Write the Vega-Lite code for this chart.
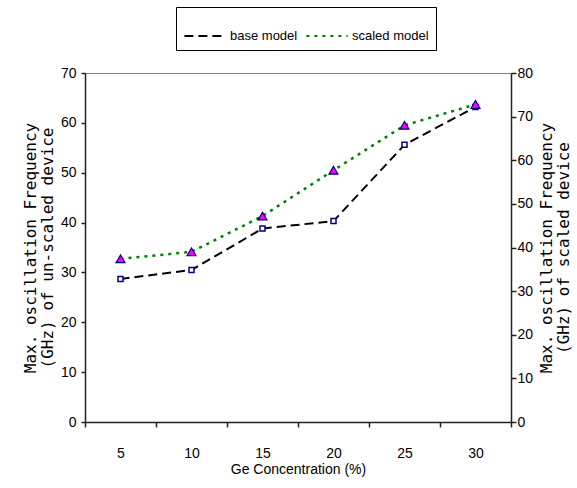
{
  "$schema": "https://vega.github.io/schema/vega-lite/v6.json",
  "width": 426,
  "height": 349,
  "autosize": {"type": "none"},
  "padding": {"left": 85, "top": 73, "right": 66, "bottom": 66},
  "background": "white",
  "config": {
    "view": {"stroke": "#808080", "strokeWidth": 1},
    "font": "Liberation Sans",
    "axis": {
      "labelFont": "Liberation Sans",
      "labelFontSize": 14,
      "labelColor": "black",
      "titleColor": "black",
      "titleFontWeight": "normal",
      "domainColor": "#222222",
      "domainWidth": 1.5,
      "tickColor": "#222222",
      "tickWidth": 1.5,
      "grid": false
    },
    "legend": {
      "labelFont": "Liberation Sans",
      "labelFontSize": 13,
      "labelColor": "black",
      "symbolType": "stroke",
      "symbolSize": 1700,
      "symbolStrokeWidth": 2,
      "strokeColor": "black",
      "fillColor": "white",
      "padding": 7,
      "columnPadding": 4,
      "labelOffset": 3
    }
  },
  "data": {
    "values": [
      {"conc": "5", "series": "base model", "value": 28.7},
      {"conc": "10", "series": "base model", "value": 30.5},
      {"conc": "15", "series": "base model", "value": 38.8},
      {"conc": "20", "series": "base model", "value": 40.3},
      {"conc": "25", "series": "base model", "value": 55.6},
      {"conc": "30", "series": "base model", "value": 63.2},
      {"conc": "5", "series": "scaled model", "value": 37.4},
      {"conc": "10", "series": "scaled model", "value": 39.0},
      {"conc": "15", "series": "scaled model", "value": 47.2},
      {"conc": "20", "series": "scaled model", "value": 57.7},
      {"conc": "25", "series": "scaled model", "value": 68.0},
      {"conc": "30", "series": "scaled model", "value": 72.8}
    ]
  },
  "encoding": {
    "x": {
      "field": "conc",
      "type": "ordinal",
      "sort": ["5", "10", "15", "20", "25", "30"],
      "scale": {"type": "band", "paddingInner": 0, "paddingOuter": 0},
      "bandPosition": 0.5,
      "axis": {
        "title": "Ge Concentration (%)",
        "titleFont": "Liberation Sans",
        "titleFontSize": 14,
        "labelAngle": 0,
        "tickBand": "extent",
        "tickSize": 5,
        "labelPadding": 19,
        "titlePadding": 2
      }
    }
  },
  "layer": [
    {
      "transform": [{"filter": "datum.series === 'base model'"}],
      "encoding": {
        "y": {
          "field": "value",
          "type": "quantitative",
          "scale": {"domain": [0, 70]},
          "axis": {
            "orient": "left",
            "values": [0, 10, 20, 30, 40, 50, 60, 70],
            "tickSize": 4,
            "labelPadding": 5,
            "title": ["Max. oscillation  Frequency", "(GHz) of un-scaled device"],
            "titleFont": "DejaVu Sans Mono",
            "titleFontSize": 16,
            "titleLineHeight": 17,
            "titlePadding": 5
          }
        }
      },
      "layer": [
        {
          "mark": {"type": "line", "strokeWidth": 2},
          "encoding": {
            "color": {
              "field": "series",
              "type": "nominal",
              "scale": {"domain": ["base model", "scaled model"], "range": ["black", "#008000"]},
              "legend": {"orient": "none", "legendX": 91, "legendY": -66, "title": null, "direction": "horizontal"}
            },
            "strokeDash": {
              "field": "series",
              "type": "nominal",
              "scale": {"domain": ["base model", "scaled model"], "range": [[9, 5], [3, 5]]},
              "legend": {"orient": "none", "legendX": 91, "legendY": -66, "title": null, "direction": "horizontal"}
            }
          }
        },
        {
          "mark": {"type": "point", "shape": "square", "filled": true, "fill": "white", "stroke": "#000080", "strokeWidth": 1.5, "size": 25, "opacity": 1},
          "encoding": {}
        }
      ]
    },
    {
      "transform": [{"filter": "datum.series === 'scaled model'"}],
      "encoding": {
        "y": {
          "field": "value",
          "type": "quantitative",
          "scale": {"domain": [0, 80]},
          "axis": {
            "orient": "right",
            "values": [0, 10, 20, 30, 40, 50, 60, 70, 80],
            "tickSize": 5,
            "labelPadding": 1,
            "title": ["Max. oscillation  Frequency", "(GHz) of scaled device"],
            "titleFont": "DejaVu Sans Mono",
            "titleFontSize": 16,
            "titleLineHeight": 17,
            "titleAngle": 270,
            "titlePadding": 5
          }
        }
      },
      "layer": [
        {
          "mark": {"type": "line", "strokeWidth": 2.5},
          "encoding": {
            "color": {
              "field": "series",
              "type": "nominal",
              "scale": {"domain": ["base model", "scaled model"], "range": ["black", "#008000"]},
              "legend": {"orient": "none", "legendX": 91, "legendY": -66, "title": null, "direction": "horizontal"}
            },
            "strokeDash": {
              "field": "series",
              "type": "nominal",
              "scale": {"domain": ["base model", "scaled model"], "range": [[9, 5], [3, 5]]},
              "legend": {"orient": "none", "legendX": 91, "legendY": -66, "title": null, "direction": "horizontal"}
            }
          }
        },
        {
          "mark": {"type": "point", "shape": "triangle-up", "filled": true, "fill": "#FF00FF", "stroke": "#000080", "strokeWidth": 1.2, "size": 80, "opacity": 1},
          "encoding": {}
        }
      ]
    }
  ],
  "resolve": {"scale": {"y": "independent"}}
}
